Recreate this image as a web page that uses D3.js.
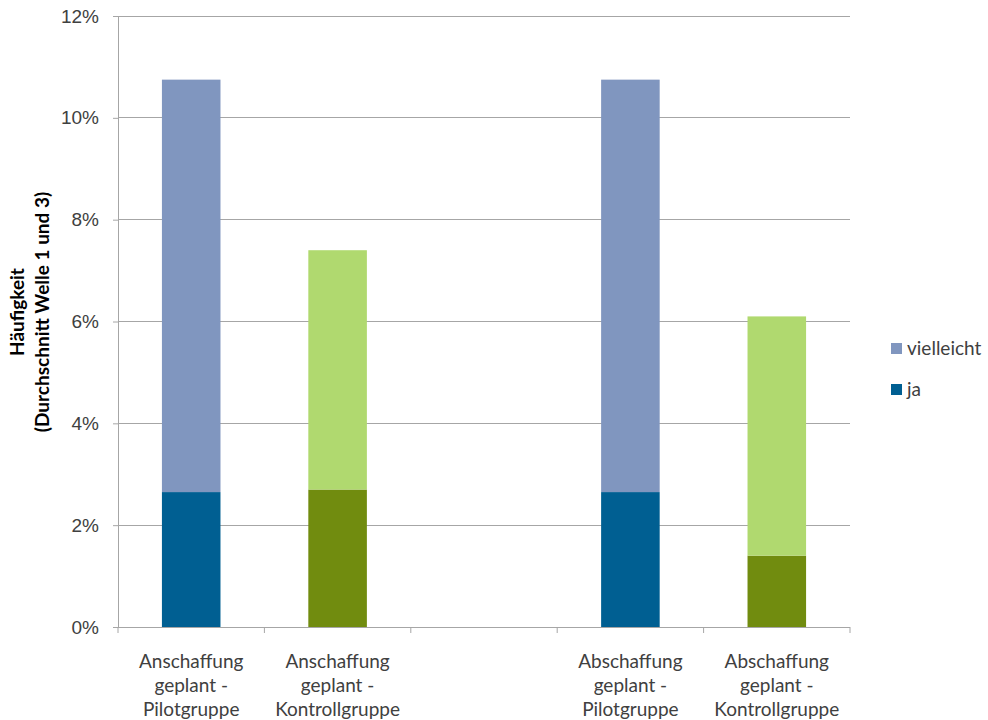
<!DOCTYPE html>
<html>
<head>
<meta charset="utf-8">
<script src="https://cdn.jsdelivr.net/npm/d3@7"></script>
<style>
  body { margin: 0; background: #fff; }
  svg { font-family: Lato, "Open Sans", sans-serif; }
</style>
</head>
<body>
<div id="chart"></div>
<script>
// Kategorien (mittlere Kategorie ist leer)
const categories = [
  ["Anschaffung", "geplant -", "Pilotgruppe"],
  ["Anschaffung", "geplant -", "Kontrollgruppe"],
  [],
  ["Abschaffung", "geplant -", "Pilotgruppe"],
  ["Abschaffung", "geplant -", "Kontrollgruppe"]
];
const groups = ["pilot", "kontroll", null, "pilot", "kontroll"];
const jaValues = [2.65, 2.7, null, 2.65, 1.4];
const vielleichtValues = [8.1, 4.7, null, 8.1, 4.7];
const yTicks = [0, 2, 4, 6, 8, 10, 12];
const legendItems = ["vielleicht", "ja"];

const colors = {
  pilot: { ja: "#005f92", vielleicht: "#8096bf" },
  kontroll: { ja: "#718c0f", vielleicht: "#b0d96f" }
};

const width = 988, height = 720;
const margin = { left: 118, right: 138, top: 16, bottom: 93 };

const svg = d3.select("#chart").append("svg")
  .attr("width", width)
  .attr("height", height);

// Skalen
const x = d3.scaleBand()
  .domain(d3.range(categories.length))
  .range([margin.left, width - margin.right])
  .padding(0);
const y = d3.scaleLinear()
  .domain([0, 12])
  .range([height - margin.bottom, margin.top]);

// Gitterlinien
svg.append("g").selectAll("line")
  .data(yTicks.filter(d => d > 0))
  .enter().append("line")
    .attr("x1", margin.left)
    .attr("x2", width - margin.right)
    .attr("y1", d => y(d))
    .attr("y2", d => y(d))
    .attr("stroke", "#a6a6a6")
    .attr("stroke-width", 1)
    .attr("shape-rendering", "crispEdges");

// Balken stapeln
const barW = x.bandwidth() * 0.4;
const bars = svg.append("g");
categories.forEach((c, i) => {
  if (jaValues[i] == null) return;
  const cx = x(i) + x.bandwidth() / 2;
  const g = groups[i];
  bars.append("rect")
    .attr("x", cx - barW / 2)
    .attr("width", barW)
    .attr("y", y(jaValues[i]))
    .attr("height", y(0) - y(jaValues[i]))
    .attr("fill", colors[g].ja);
  const top = jaValues[i] + vielleichtValues[i];
  bars.append("rect")
    .attr("x", cx - barW / 2)
    .attr("width", barW)
    .attr("y", y(top))
    .attr("height", y(jaValues[i]) - y(top))
    .attr("fill", colors[g].vielleicht);
});

// Y-Achse
const yAxis = svg.append("g")
  .attr("transform", `translate(${margin.left},0)`)
  .call(d3.axisLeft(y).tickValues(yTicks).tickFormat(d => d + "%").tickSize(5).tickPadding(14));
yAxis.select(".domain").attr("stroke", "#a6a6a6");
yAxis.selectAll(".tick line").attr("stroke", "#a6a6a6");
yAxis.selectAll("text").attr("font-size", "19px").attr("fill", "#404040");

// X-Achse
const xAxisG = svg.append("g")
  .attr("transform", `translate(0,${y(0)})`);
xAxisG.append("line")
  .attr("x1", margin.left).attr("x2", width - margin.right)
  .attr("stroke", "#a6a6a6").attr("shape-rendering", "crispEdges");
xAxisG.selectAll(".xtick")
  .data(d3.range(categories.length + 1))
  .enter().append("line")
    .attr("x1", d => margin.left + d * x.bandwidth())
    .attr("x2", d => margin.left + d * x.bandwidth())
    .attr("y1", 0).attr("y2", 6)
    .attr("stroke", "#a6a6a6");

categories.forEach((lines, i) => {
  const t = svg.append("text")
    .attr("text-anchor", "middle")
    .attr("font-size", "19px")
    .attr("fill", "#404040");
  lines.forEach((l, j) => {
    t.append("tspan")
      .attr("x", x(i) + x.bandwidth() / 2)
      .attr("y", 668 + j * 24)
      .text(l);
  });
});

// Y-Titel
const yTitle = svg.append("text")
  .attr("transform", "translate(0,312) rotate(-90)")
  .attr("text-anchor", "middle")
  .attr("font-size", "19px")
  .attr("font-weight", "bold")
  .attr("fill", "#000");
yTitle.append("tspan").attr("x", 0).attr("y", 24).text("Häufigkeit");
yTitle.append("tspan").attr("x", 0).attr("y", 49).text("(Durchschnitt Welle 1 und 3)");

// Legende
const legend = svg.append("g").attr("transform", "translate(891,343)");
legendItems.forEach((name, i) => {
  const row = legend.append("g").attr("transform", `translate(0,${i * 41})`);
  row.append("rect")
    .attr("width", 11).attr("height", 11)
    .attr("fill", colors.pilot[name]);
  row.append("text")
    .attr("x", 16).attr("y", 12)
    .attr("font-size", "19px")
    .attr("fill", "#404040")
    .text(name);
});
</script>
</body>
</html>
